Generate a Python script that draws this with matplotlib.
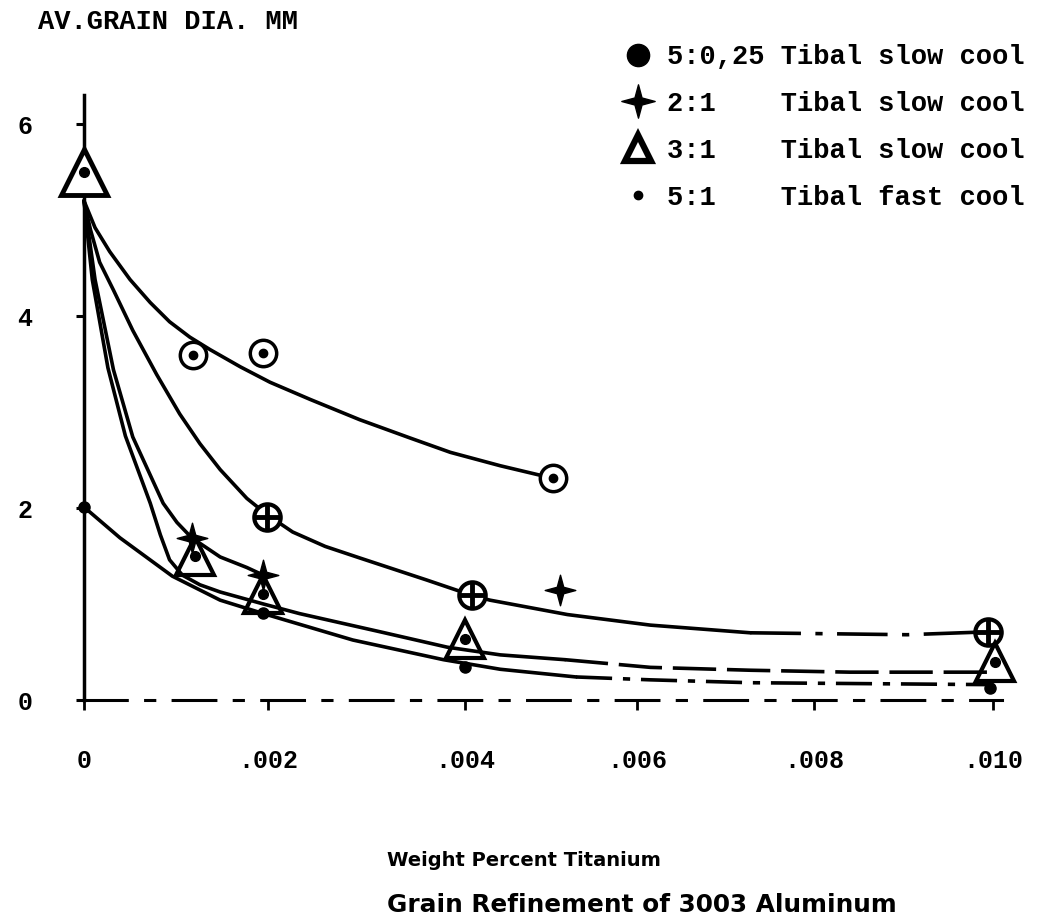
import numpy as np
import matplotlib
matplotlib.use("Agg")
import matplotlib.pyplot as plt
from matplotlib.lines import Line2D
from matplotlib.path import Path

ring_x = [0.00118, 0.00195, 0.00502]          # circulo aberto com ponto
ring_y = [3.59, 3.61, 2.31]
cross_x = [0.00199, 0.00408, 0.00994]         # 5:0,25 slow cool
cross_y = [1.91, 1.09, 0.71]
plus_x = [0.00117, 0.00195, 0.00510]          # 2:1 slow cool
plus_y = [1.69, 1.30, 1.15]
tri_x = [0.0, 0.00121, 0.00195, 0.00400, 0.01002]   # 3:1 slow cool
tri_y = [5.50, 1.50, 1.10, 0.64, 0.40]
fast_x = [0.0, 0.00195, 0.00400, 0.00997]     # 5:1 fast cool
fast_y = [2.01, 0.91, 0.34, 0.13]

# ── curvas desenhadas a mão ─────────────────────────────────────────────────
c_ring_x = [0, .00012, .00028, .0005, .00072, .00093, .00115, .00137, .0017,
            .00202, .00243, .00293, .00344, .00385, .00441, .00502]
c_ring_y = [5.2, 4.92, 4.67, 4.38, 4.14, 3.94, 3.78, 3.65, 3.47,
            3.31, 3.13, 2.92, 2.73, 2.58, 2.44, 2.31]

c_cross_x = [0, .00007, .00017, .00032, .00053, .00079, .00104, .00126, .00148,
             .00177, .00199, .00225, .00258, .00293, .00361, .00408, .00429,
             .00519, .00615, .00728]
c_cross_y = [5.2, 4.90, 4.56, 4.27, 3.85, 3.39, 2.98, 2.67, 2.40,
             2.10, 1.93, 1.75, 1.60, 1.48, 1.25, 1.09, 1.04,
             0.89, 0.78, 0.70]
c_cross_dash_x = [.00728, .00818, .00904, .00994]
c_cross_dash_y = [0.70, 0.69, 0.68, 0.71]

c_plus_x = [0, .00012, .00032, .00053, .00086, .00101, .00117, .00148, .00177, .00195]
c_plus_y = [5.2, 4.38, 3.44, 2.74, 2.05, 1.85, 1.69, 1.49, 1.38, 1.30]

c_tri_x = [0, .00009, .00026, .00045, .00072, .00083, .00093, .00107, .00126,
           .00148, .00195, .00232, .00314, .00382, .00441, .00516]
c_tri_y = [5.2, 4.38, 3.46, 2.75, 2.05, 1.72, 1.46, 1.30, 1.20,
           1.125, 1.0, 0.90, 0.71, 0.55, 0.47, 0.42]
c_tri_dash_x = [.00516, .00615, .00728, .0084, .00997]
c_tri_dash_y = [0.42, 0.34, 0.31, 0.29, 0.29]

c_fast_x = [0, .00039, .00096, .00148, .00195, .00286, .00378, .00441, .00529]
c_fast_y = [2.01, 1.69, 1.29, 1.04, 0.90, 0.625, 0.42, 0.32, 0.24]
c_fast_dash_x = [.00529, .00615, .00728, .00997]
c_fast_dash_y = [0.24, 0.21, 0.18, 0.16]

x_ticks = [0, .002, .004, .006, .008, .010]
x_ticklabels = ["0", ".002", ".004", ".006", ".008", ".010"]
y_ticks = [0, 2, 4, 6]

legend_labels = ["5:0,25 Tibal slow cool",
                 "2:1    Tibal slow cool",
                 "3:1    Tibal slow cool",
                 "5:1    Tibal fast cool"]

# o eixo x do original não é uniforme (desenhado à mão)
XV = [-0.001, 0, .002, .004, .006, .008, .010, .012]
XP = [-92, 84, 268, 465, 637, 814, 993, 1172]


def fwd(x):
    return np.interp(x, XV, XP)


def inv(p):
    return np.interp(p, XP, XV)


plt.rcParams["font.family"] = ["Liberation Mono", "DejaVu Sans"]
plt.rcParams["font.weight"] = "bold"

W, H = 1047, 915
fig = plt.figure(figsize=(W / 100, H / 100), dpi=100)
ax = fig.add_axes([84 / W, (H - 700) / H, (1020 - 84) / W, 610 / H])
ax.set_xscale("function", functions=(fwd, inv))
ax.set_xlim(0, 0.0103)
ax.set_ylim(0, 610 / 96)

K = "black"
lw = 2.6
kw = dict(color=K, lw=lw, clip_on=False, solid_capstyle="round", solid_joinstyle="round")
ax.plot(c_ring_x, c_ring_y, **kw)
ax.plot(c_cross_x, c_cross_y, **kw)
ax.plot(c_cross_dash_x, c_cross_dash_y, color=K, lw=lw, ls=(0, (14, 4, 2, 4)))
ax.plot(c_plus_x, c_plus_y, **kw)
ax.plot(c_tri_x, c_tri_y, **kw)
ax.plot(c_tri_dash_x, c_tri_dash_y, color=K, lw=lw, ls=(0, (12, 3)))
ax.plot(c_fast_x, c_fast_y, **kw)
ax.plot(c_fast_dash_x, c_fast_dash_y, color=K, lw=lw, ls=(0, (10, 3, 2, 3)))

star = Path.unit_regular_star(4, innerCircle=0.3)

ax.plot(ring_x, ring_y, ls="none", marker="o", ms=19, mfc="white", mec=K, mew=2.5,
        clip_on=False, zorder=5)
ax.plot(ring_x, ring_y, ls="none", marker="o", ms=6, color=K, clip_on=False, zorder=6)
ax.plot(cross_x, cross_y, ls="none", marker="o", ms=19, mfc="white", mec=K, mew=3,
        clip_on=False, zorder=5)
ax.plot(cross_x, cross_y, ls="none", marker="+", ms=17, mec=K, mew=3.5,
        clip_on=False, zorder=6)
ax.plot(plus_x, plus_y, ls="none", marker=star, ms=22, color=K, clip_on=False, zorder=7)
ax.plot(tri_x[1:], tri_y[1:], ls="none", marker="^", ms=28, mfc="none", mec=K, mew=3,
        clip_on=False, zorder=5)
ax.plot(tri_x[:1], tri_y[:1], ls="none", marker="^", ms=33, mfc="white", mec=K, mew=3.5,
        clip_on=False, zorder=5)
ax.plot(tri_x, tri_y, ls="none", marker="o", ms=7, color=K, clip_on=False, zorder=6)
ax.plot(fast_x, fast_y, ls="none", marker="o", ms=8, color=K, clip_on=False, zorder=6)

# eixos
for s in ["top", "right"]:
    ax.spines[s].set_visible(False)
ax.spines["left"].set_bounds(0, 6.3)
ax.spines["left"].set_linewidth(2.5)
ax.spines["bottom"].set_bounds(0, 0.0101)
ax.spines["bottom"].set_linewidth(2.2)
ax.spines["bottom"].set_linestyle((0, (14, 6, 3, 6)))

ax.set_xticks(x_ticks)
ax.set_xticklabels(x_ticklabels)
ax.set_yticks(y_ticks)
ax.tick_params(axis="y", direction="out", length=6, width=2.2, pad=31, labelsize=18)
ax.tick_params(axis="x", direction="out", length=7, width=2, pad=28, labelsize=18)
for lbl in ax.get_xticklabels() + ax.get_yticklabels():
    lbl.set_fontweight("bold")

fig.text(38 / W, 1 - 22 / H, "AV.GRAIN DIA. MM", fontsize=19.5, fontweight="bold",
         va="center", ha="left")

handles = [
    Line2D([], [], ls="none", marker="o", ms=16, color=K),
    Line2D([], [], ls="none", marker=star, ms=24, color=K),
    Line2D([], [], ls="none", marker="^", ms=19, mfc="white", mec=K, mew=4.5),
    Line2D([], [], ls="none", marker="o", ms=6, color=K),
]
fig.legend(handles, legend_labels, loc="upper left", bbox_to_anchor=(624 / W, 1 - 44 / H),
           frameon=False, prop=dict(family="Liberation Mono", weight="bold", size=19.5),
           handlelength=1.0, handletextpad=0.6, labelspacing=0.77,
           borderpad=0, borderaxespad=0)

fig.text(387 / W, 1 - 860 / H, "Weight Percent Titanium", fontsize=14,
         fontweight="bold", family="DejaVu Sans", va="center", ha="left")
fig.text(387 / W, 1 - 905 / H, "Grain Refinement of 3003 Aluminum", fontsize=17.8,
         fontweight="bold", family="DejaVu Sans", va="center", ha="left")

fig.savefig("out.png", dpi=100)
